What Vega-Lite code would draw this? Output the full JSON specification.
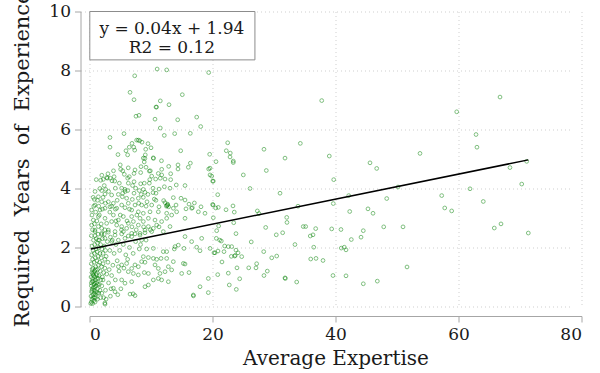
{
"$schema": "https://vega.github.io/schema/vega-lite/v6.json",
"width": 492,
"height": 295,
"autosize": {"type": "none"},
"padding": {"left": 89.5, "top": 11.5, "right": 18.5, "bottom": 66.5},
"background": "white",
"config": {
 "view": {"stroke": null},
 "font": "DejaVu Serif",
 "axis": {"gridColor": "#cfcfcf", "gridDash": [1, 3], "gridWidth": 1, "domainColor": "#a6a6a6", "tickColor": "#a6a6a6", "tickSize": 6, "labelFont": "DejaVu Serif", "labelFontSize": 17, "labelColor": "#1a1a1a", "titleFont": "DejaVu Serif", "titleFontWeight": "normal", "titleColor": "#1a1a1a", "offset": 9, "labelPadding": 4}
},
"datasets": {
 "pts": [
{"x":11.0,"y":8.05},{"x":12.55,"y":8.02},{"x":19.38,"y":7.93},{"x":7.35,"y":7.82},{"x":6.59,"y":7.26},{"x":15.09,"y":7.18},{"x":7.24,"y":7.01},{"x":11.51,"y":6.97},{"x":12.93,"y":6.84},{"x":10.81,"y":6.76},{"x":10.9,"y":6.76},{"x":8.05,"y":6.48},{"x":7.56,"y":6.45},{"x":10.65,"y":6.35},{"x":14.34,"y":6.33},{"x":17.43,"y":6.42},{"x":18.08,"y":6.1},{"x":11.51,"y":6.05},{"x":5.61,"y":5.86},{"x":12.16,"y":5.8},{"x":13.85,"y":5.86},{"x":16.39,"y":5.87},{"x":3.33,"y":5.73},{"x":7.67,"y":5.64},{"x":7.93,"y":5.64},{"x":8.16,"y":5.62},{"x":6.91,"y":5.53},{"x":8.54,"y":5.57},{"x":9.51,"y":5.52},{"x":3.33,"y":5.4},{"x":6.47,"y":5.4},{"x":7.19,"y":5.4},{"x":10.0,"y":5.38},{"x":9.14,"y":5.33},{"x":5.93,"y":5.28},{"x":7.35,"y":5.3},{"x":14.83,"y":5.28},{"x":4.63,"y":5.15},{"x":9.07,"y":5.14},{"x":10.37,"y":5.04},{"x":8.75,"y":5.03},{"x":19.54,"y":5.16},
{"x":37.76,"y":6.98},{"x":22.47,"y":5.55},{"x":34.28,"y":5.53},{"x":28.37,"y":5.33},{"x":22.24,"y":5.28},{"x":22.89,"y":5.2},{"x":22.85,"y":5.07},{"x":23.38,"y":4.93},{"x":23.38,"y":4.88},{"x":20.57,"y":4.91},{"x":31.79,"y":5.03},{"x":38.99,"y":5.1},{"x":28.75,"y":4.61},{"x":25.01,"y":4.46},{"x":45.61,"y":4.87},{"x":46.7,"y":4.68},{"x":39.71,"y":4.3},{"x":20.03,"y":4.25},{"x":26.1,"y":4.0},{"x":19.6,"y":4.69},{"x":19.6,"y":4.46},
{"x":66.75,"y":7.1},{"x":59.71,"y":6.6},{"x":62.85,"y":5.83},{"x":63.0,"y":5.4},{"x":53.74,"y":5.19},{"x":68.37,"y":4.71},{"x":71.09,"y":4.92},{"x":70.28,"y":4.15},{"x":61.87,"y":3.99},{"x":50.16,"y":4.05},{"x":30.98,"y":3.84},{"x":57.27,"y":3.76},{"x":48.33,"y":3.66},{"x":64.03,"y":3.56},{"x":42.15,"y":3.76},{"x":39.64,"y":3.49},{"x":33.9,"y":3.4},{"x":57.76,"y":3.34},{"x":58.89,"y":3.24},{"x":45.28,"y":3.31},{"x":42.31,"y":3.22},{"x":46.1,"y":3.16},{"x":32.07,"y":3.02},{"x":32.11,"y":2.85},{"x":31.41,"y":2.5},{"x":34.76,"y":2.71},{"x":35.15,"y":2.71},{"x":36.78,"y":2.64},{"x":39.38,"y":2.63},{"x":40.89,"y":2.61},{"x":47.84,"y":2.7},{"x":50.98,"y":2.7},{"x":44.52,"y":2.57},{"x":65.82,"y":2.66},{"x":66.91,"y":2.8},{"x":71.35,"y":2.49},{"x":35.9,"y":2.39},{"x":36.34,"y":2.43},{"x":44.15,"y":2.35},{"x":42.57,"y":2.27},{"x":33.41,"y":2.1},{"x":36.46,"y":2.01},{"x":40.94,"y":1.98},{"x":41.43,"y":2.01},{"x":41.71,"y":1.92},{"x":35.97,"y":1.61},{"x":36.83,"y":1.63},{"x":37.97,"y":1.56},{"x":51.63,"y":1.34},{"x":39.59,"y":1.05},{"x":41.71,"y":1.04},{"x":31.79,"y":0.97},{"x":33.69,"y":0.83},{"x":44.52,"y":0.77},{"x":46.8,"y":0.86},
{"x":20.85,"y":3.79},{"x":20.03,"y":3.46},{"x":20.52,"y":3.34},{"x":20.94,"y":3.36},{"x":22.2,"y":3.28},{"x":23.33,"y":3.41},{"x":23.54,"y":3.2},{"x":27.29,"y":3.24},{"x":27.56,"y":3.15},{"x":21.0,"y":2.73},{"x":23.45,"y":2.84},{"x":20.68,"y":2.57},{"x":20.62,"y":2.31},{"x":21.17,"y":2.25},{"x":21.43,"y":2.22},{"x":23.82,"y":2.47},{"x":28.65,"y":2.68},{"x":30.37,"y":2.43},{"x":26.3,"y":2.19},{"x":21.98,"y":2.05},{"x":22.57,"y":2.03},{"x":23.12,"y":2.03},{"x":19.6,"y":1.97},{"x":20.24,"y":1.82},{"x":20.89,"y":1.88},{"x":21.87,"y":1.86},{"x":23.82,"y":1.91},{"x":24.15,"y":1.82},{"x":23.7,"y":1.73},{"x":23.6,"y":1.71},{"x":23.06,"y":1.7},{"x":24.75,"y":1.69},{"x":28.33,"y":1.86},{"x":30.44,"y":1.71},{"x":29.63,"y":1.65},{"x":21.54,"y":1.51},{"x":23.98,"y":1.31},{"x":25.89,"y":1.31},{"x":27.07,"y":1.31},{"x":27.18,"y":1.45},{"x":28.91,"y":1.2},{"x":28.37,"y":1.05},{"x":20.85,"y":1.08},{"x":22.57,"y":1.13},{"x":24.42,"y":0.94},{"x":31.84,"y":0.95},{"x":22.73,"y":0.73},{"x":23.87,"y":0.58},{"x":16.9,"y":0.36},{"x":7.4,"y":0.37},{"x":7.1,"y":0.43},{"x":2.5,"y":0.12},
{"x":6.2,"y":5.14},{"x":9.0,"y":5.02},{"x":10.4,"y":5.02},{"x":11.7,"y":4.94},{"x":16.4,"y":4.86},{"x":5.07,"y":4.65},{"x":5.4,"y":4.6},{"x":7.4,"y":4.63},{"x":8.37,"y":4.74},{"x":9.19,"y":4.72},{"x":9.73,"y":4.59},{"x":11.74,"y":4.65},{"x":12.88,"y":4.75},{"x":14.39,"y":4.8},{"x":14.39,"y":4.66},{"x":16.07,"y":4.72},{"x":19.38,"y":4.66},{"x":7.24,"y":4.51},{"x":5.66,"y":4.48},{"x":8.32,"y":4.54},{"x":9.89,"y":4.6},{"x":11.19,"y":4.51},{"x":13.2,"y":4.5},{"x":10.11,"y":4.42},{"x":11.74,"y":4.46},{"x":12.28,"y":4.32},{"x":10.76,"y":4.32},{"x":11.51,"y":4.35},{"x":6.47,"y":4.4},{"x":6.21,"y":4.35},{"x":3.38,"y":4.35},{"x":2.8,"y":4.37},{"x":1.82,"y":4.28},{"x":2.24,"y":4.31},{"x":4.1,"y":4.25},{"x":3.66,"y":4.26},{"x":4.85,"y":4.18},{"x":6.31,"y":4.18},{"x":7.24,"y":4.23},{"x":8.32,"y":4.16},{"x":8.91,"y":4.18},{"x":9.73,"y":4.18},{"x":13.2,"y":4.3},{"x":14.11,"y":4.12},{"x":15.53,"y":4.1},{"x":19.87,"y":4.42},{"x":20.13,"y":4.25},
{"x":2.63,"y":3.97},{"x":1.98,"y":3.93},{"x":4.2,"y":4.01},{"x":5.23,"y":4.01},{"x":5.77,"y":3.97},{"x":6.21,"y":3.93},{"x":7.51,"y":4.01},{"x":8.1,"y":3.93},{"x":8.75,"y":3.97},{"x":10.33,"y":4.01},{"x":11.3,"y":3.98},{"x":12.17,"y":4.06},{"x":13.09,"y":4.01},{"x":10.33,"y":3.86},{"x":10.81,"y":3.84},{"x":9.02,"y":3.87},{"x":7.24,"y":3.84},{"x":5.39,"y":3.84},{"x":4.69,"y":3.8},{"x":3.6,"y":3.78},{"x":2.52,"y":3.81},{"x":1.44,"y":3.72},{"x":0.79,"y":3.63},{"x":5.34,"y":3.72},{"x":6.04,"y":3.67},{"x":6.96,"y":3.63},{"x":7.94,"y":3.67},{"x":8.75,"y":3.7},{"x":9.35,"y":3.55},{"x":10.54,"y":3.64},{"x":12.06,"y":3.59},{"x":12.28,"y":3.52},{"x":12.71,"y":3.44},{"x":12.87,"y":3.38},{"x":13.63,"y":3.69},{"x":14.88,"y":3.67},{"x":15.53,"y":3.61},{"x":16.18,"y":3.47},{"x":17.05,"y":3.51},{"x":18.13,"y":3.38},{"x":16.61,"y":3.33},{"x":15.69,"y":3.31},{"x":20.08,"y":3.44},{"x":14.07,"y":3.44},{"x":13.63,"y":3.33},{"x":14.17,"y":3.21},{"x":11.3,"y":3.38},{"x":10.11,"y":3.44},{"x":8.48,"y":3.44},{"x":7.4,"y":3.44},{"x":6.31,"y":3.5},{"x":5.23,"y":3.44},{"x":3.88,"y":3.5},{"x":3.06,"y":3.55},{"x":1.98,"y":3.55},{"x":0.89,"y":3.44},{"x":0.35,"y":3.27},{"x":1.71,"y":3.27},{"x":2.52,"y":3.33},{"x":3.33,"y":3.38},{"x":4.42,"y":3.33},{"x":5.77,"y":3.35},{"x":6.86,"y":3.27},{"x":7.94,"y":3.21},{"x":8.75,"y":3.16},{"x":9.84,"y":3.21},{"x":11.19,"y":3.21},{"x":12.55,"y":3.16},{"x":13.36,"y":3.1},{"x":15.53,"y":2.99},{"x":20.13,"y":3.01},{"x":18.78,"y":3.16},{"x":17.7,"y":3.21},{"x":16.72,"y":3.35},
{"x":0.35,"y":2.76},{"x":1.44,"y":2.71},{"x":1.98,"y":2.65},{"x":2.79,"y":2.82},{"x":3.6,"y":2.88},{"x":4.42,"y":2.76},{"x":5.23,"y":2.71},{"x":6.31,"y":2.82},{"x":7.13,"y":2.88},{"x":7.94,"y":2.76},{"x":8.75,"y":2.88},{"x":9.57,"y":2.71},{"x":10.38,"y":2.65},{"x":10.92,"y":2.76},{"x":12.0,"y":2.54},{"x":13.09,"y":2.71},{"x":1.98,"y":2.48},{"x":0.89,"y":2.59},{"x":3.06,"y":2.59},{"x":4.15,"y":2.54},{"x":5.5,"y":2.54},{"x":6.86,"y":2.48},{"x":8.21,"y":2.48},{"x":9.02,"y":2.59},{"x":6.04,"y":2.65},{"x":4.69,"y":2.93},{"x":2.52,"y":2.99},{"x":1.44,"y":3.05},{"x":0.62,"y":2.93},{"x":6.86,"y":3.05},{"x":5.5,"y":3.05},{"x":3.88,"y":3.1},{"x":8.21,"y":2.99},{"x":9.57,"y":2.99},{"x":10.65,"y":2.93},{"x":11.73,"y":2.88},{"x":12.55,"y":2.99},{"x":12.6,"y":3.42},{"x":12.7,"y":3.47},{"x":12.5,"y":3.4},
{"x":0.89,"y":2.54},{"x":1.98,"y":2.44},{"x":3.06,"y":2.52},{"x":4.15,"y":2.42},{"x":5.23,"y":2.46},{"x":6.31,"y":2.39},{"x":7.4,"y":2.46},{"x":8.21,"y":2.42},{"x":9.02,"y":2.5},{"x":10.11,"y":2.54},{"x":1.44,"y":2.25},{"x":2.52,"y":2.31},{"x":3.6,"y":2.2},{"x":4.69,"y":2.25},{"x":5.77,"y":2.31},{"x":6.86,"y":2.37},{"x":8.48,"y":2.25},{"x":15.53,"y":2.37},{"x":16.61,"y":2.2},{"x":18.24,"y":2.31},{"x":13.9,"y":2.03},{"x":14.44,"y":2.08},{"x":15.37,"y":1.97},{"x":8.1,"y":1.95},{"x":9.29,"y":1.95},{"x":10.38,"y":1.97},{"x":12.0,"y":1.86},{"x":12.55,"y":1.86},{"x":13.79,"y":1.95},{"x":17.43,"y":2.01},{"x":17.97,"y":1.89},{"x":20.41,"y":1.82},{"x":8.75,"y":1.69},{"x":9.57,"y":1.66},{"x":10.38,"y":1.63},{"x":10.92,"y":1.6},{"x":11.63,"y":1.63},{"x":12.55,"y":1.63},{"x":15.26,"y":1.46},{"x":15.53,"y":1.44},{"x":8.48,"y":1.52},{"x":9.02,"y":1.5},{"x":7.4,"y":1.41},{"x":7.94,"y":1.35},{"x":6.86,"y":1.29},{"x":6.04,"y":1.46},{"x":5.23,"y":1.41},{"x":4.69,"y":1.35},{"x":6.31,"y":1.18},{"x":7.13,"y":1.12},{"x":7.94,"y":1.07},{"x":8.91,"y":1.15},{"x":9.57,"y":1.12},{"x":10.65,"y":1.41},{"x":11.19,"y":1.29},{"x":11.46,"y":1.12},{"x":12.28,"y":1.18},{"x":12.82,"y":1.35},{"x":14.99,"y":1.12},{"x":16.18,"y":1.15},{"x":10.38,"y":0.9},{"x":11.19,"y":0.95},{"x":11.73,"y":0.9},{"x":12.82,"y":0.84},{"x":9.57,"y":0.73},{"x":9.02,"y":0.67},{"x":6.86,"y":0.84},{"x":5.77,"y":0.79},{"x":5.23,"y":0.9},{"x":4.15,"y":0.5},{"x":3.88,"y":0.62},{"x":6.59,"y":0.42},{"x":2.52,"y":0.08},{"x":16.88,"y":0.39},{"x":19.32,"y":0.95},{"x":17.97,"y":0.67},{"x":19.32,"y":0.47},{"x":13.63,"y":1.52},{"x":13.36,"y":1.24},
{"x":0.2,"y":0.1},{"x":0.3,"y":0.15},{"x":0.5,"y":0.1},{"x":0.4,"y":0.25},{"x":0.7,"y":0.2},{"x":0.9,"y":0.15},{"x":0.25,"y":0.35},{"x":0.6,"y":0.3},{"x":1.0,"y":0.3},{"x":1.3,"y":0.25},{"x":0.35,"y":0.5},{"x":0.8,"y":0.45},{"x":1.1,"y":0.5},{"x":1.5,"y":0.45},{"x":0.5,"y":0.6},{"x":0.9,"y":0.65},{"x":1.3,"y":0.6},{"x":1.7,"y":0.55},{"x":0.3,"y":0.7},{"x":0.7,"y":0.75},{"x":1.2,"y":0.8},{"x":1.6,"y":0.75},{"x":2.0,"y":0.7},{"x":0.45,"y":0.85},{"x":0.95,"y":0.9},{"x":1.4,"y":0.95},{"x":1.85,"y":0.9},{"x":0.25,"y":1.0},{"x":0.65,"y":1.05},{"x":1.1,"y":1.1},{"x":1.55,"y":1.05},{"x":2.1,"y":1.0},{"x":0.4,"y":1.15},{"x":0.85,"y":1.2},{"x":1.3,"y":1.25},{"x":1.75,"y":1.2},{"x":2.3,"y":1.15},{"x":0.55,"y":1.3},{"x":1.0,"y":1.35},{"x":1.45,"y":1.4},{"x":1.95,"y":1.35},{"x":0.3,"y":1.45},{"x":0.75,"y":1.5},{"x":1.2,"y":1.55},{"x":1.65,"y":1.5},{"x":2.2,"y":1.45},{"x":0.5,"y":1.6},{"x":0.95,"y":1.65},{"x":1.4,"y":1.7},{"x":1.9,"y":1.65},{"x":2.5,"y":1.6},{"x":0.35,"y":1.75},{"x":0.8,"y":1.8},{"x":1.25,"y":1.85},{"x":1.7,"y":1.8},{"x":2.2,"y":1.8},{"x":0.6,"y":1.9},{"x":1.05,"y":1.95},{"x":1.5,"y":2.0},{"x":2.0,"y":1.95},{"x":2.6,"y":1.9},{"x":0.4,"y":2.05},{"x":0.85,"y":2.1},{"x":1.3,"y":2.15},{"x":1.8,"y":2.1},{"x":2.4,"y":2.05},{"x":0.65,"y":2.25},{"x":1.1,"y":2.3},{"x":1.6,"y":2.25},{"x":2.1,"y":2.3},{"x":0.3,"y":2.4},{"x":0.9,"y":2.4},{"x":1.4,"y":2.45},
{"x":0.55,"y":0.4},{"x":0.75,"y":0.55},{"x":1.05,"y":0.7},{"x":0.6,"y":0.85},{"x":0.85,"y":1.0},{"x":1.15,"y":0.95},{"x":0.7,"y":1.15},{"x":1.0,"y":1.25},{"x":0.5,"y":0.95},{"x":0.95,"y":0.4},{"x":1.25,"y":0.45},{"x":0.4,"y":0.55},{"x":0.65,"y":0.65},{"x":1.35,"y":0.75},{"x":0.55,"y":1.1},{"x":0.8,"y":0.3},{"x":0.3,"y":0.8},{"x":1.2,"y":1.05},{"x":0.9,"y":0.8},{"x":0.45,"y":1.25},
{"x":2.3,"y":0.3},{"x":2.6,"y":0.55},{"x":2.2,"y":0.9},{"x":2.8,"y":1.1},{"x":3.1,"y":0.8},{"x":2.5,"y":1.3},{"x":3.0,"y":1.5},{"x":2.7,"y":1.7},{"x":3.3,"y":1.9},{"x":2.9,"y":2.2},{"x":3.4,"y":2.35},{"x":2.4,"y":2.45},{"x":3.2,"y":1.25},{"x":3.5,"y":0.6},{"x":2.0,"y":0.45},{"x":1.8,"y":0.3},{"x":2.7,"y":0.25},{"x":3.6,"y":1.05},{"x":3.8,"y":1.4},{"x":4.0,"y":1.8},{"x":4.3,"y":2.1},{"x":3.7,"y":2.25},{"x":4.5,"y":1.55},{"x":4.9,"y":1.9},{"x":5.5,"y":2.1},{"x":5.9,"y":1.75},{"x":6.5,"y":2.0},{"x":7.1,"y":1.8},{"x":4.2,"y":0.9},{"x":4.8,"y":1.2},{"x":5.6,"y":1.3},{"x":6.2,"y":1.6},{"x":7.5,"y":2.2},{"x":8.3,"y":2.1},{"x":9.2,"y":2.25},{"x":5.1,"y":0.6},{"x":3.4,"y":0.35},{"x":4.6,"y":0.4},
{"x":0.5,"y":2.6},{"x":0.8,"y":2.8},{"x":1.2,"y":2.9},{"x":0.4,"y":3.1},{"x":1.0,"y":3.2},{"x":1.6,"y":3.1},{"x":2.1,"y":3.3},{"x":0.7,"y":3.4},{"x":1.3,"y":3.6},{"x":2.2,"y":3.7},{"x":0.9,"y":3.9},{"x":1.7,"y":4.0},{"x":2.4,"y":4.1},{"x":1.1,"y":4.3},{"x":2.0,"y":4.45},{"x":2.9,"y":4.35},{"x":3.1,"y":3.9},{"x":2.6,"y":3.5},{"x":1.9,"y":2.8},{"x":2.5,"y":2.6},{"x":3.3,"y":3.2},{"x":1.5,"y":3.4},{"x":0.6,"y":3.7},{"x":3.6,"y":3.4},{"x":4.0,"y":4.4},{"x":3.0,"y":4.5},
{"x":4.5,"y":3.6},{"x":5.0,"y":3.1},{"x":5.8,"y":3.9},{"x":6.5,"y":3.3},{"x":7.0,"y":4.1},{"x":7.7,"y":3.1},{"x":8.4,"y":3.8},{"x":9.2,"y":3.4},{"x":9.8,"y":4.3},{"x":10.8,"y":3.6},{"x":4.3,"y":2.9},{"x":5.2,"y":2.6},{"x":6.1,"y":2.9},{"x":6.9,"y":2.7},{"x":7.6,"y":2.6},{"x":8.8,"y":2.7},{"x":9.9,"y":2.6},{"x":11.3,"y":2.7},{"x":3.9,"y":4.6},{"x":5.0,"y":4.8},{"x":6.3,"y":4.7},{"x":8.9,"y":4.9},{"x":4.2,"y":3.3},{"x":8.0,"y":3.5},{"x":9.5,"y":3.8}
 ],
 "fit": [{"x": 0.2, "y": 1.95}, {"x": 71.35, "y": 4.97}],
 "note": [{"line": "y = 0.04x + 1.94", "ypos": 9.42}, {"line": "R2 = 0.12", "ypos": 8.76}]
},
"encoding": {
 "x": {"type": "quantitative", "scale": {"domain": [0, 80], "nice": false, "zero": false}},
 "y": {"type": "quantitative", "scale": {"domain": [0, 10], "nice": false}}
},
"layer": [
 {
  "data": {"name": "pts"},
  "mark": {"type": "point", "shape": "circle", "filled": false, "size": 14, "strokeWidth": 1, "color": "#008000", "opacity": 0.5},
  "encoding": {
   "x": {"field": "x", "type": "quantitative", "axis": {"values": [0, 20, 40, 60, 80], "title": "Average Expertise", "titleFontSize": 20, "titlePadding": 6, "offset": 9.5}},
   "y": {"field": "y", "type": "quantitative", "axis": {"values": [0, 2, 4, 6, 8, 10], "title": "Required \u00a0Years \u00a0of \u00a0Experience", "titleFontSize": 21, "titlePadding": 16}}
  }
 },
 {
  "data": {"name": "fit"},
  "mark": {"type": "line", "color": "#000000", "strokeWidth": 1.5},
  "encoding": {"x": {"field": "x", "type": "quantitative"}, "y": {"field": "y", "type": "quantitative"}}
 },
 {
  "data": {"values": [{}]},
  "mark": {"type": "rect", "fill": "white", "stroke": "#8c8c8c", "strokeWidth": 1},
  "encoding": {"x": {"datum": 0.05, "type": "quantitative"}, "x2": {"datum": 26.9}, "y": {"datum": 10, "type": "quantitative"}, "y2": {"datum": 8.36}}
 },
 {
  "data": {"name": "note"},
  "mark": {"type": "text", "fontSize": 17, "align": "center", "baseline": "middle", "color": "#1a1a1a"},
  "encoding": {
   "x": {"datum": 13.4, "type": "quantitative"},
   "y": {"field": "ypos", "type": "quantitative"},
   "text": {"field": "line"}
  }
 }
]
}
